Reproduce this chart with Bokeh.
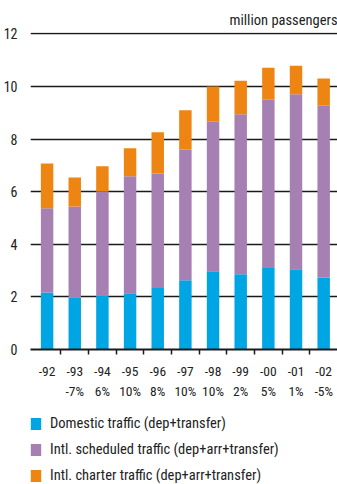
from bokeh.plotting import figure
from bokeh.layouts import column
from bokeh.models import FixedTicker, Legend, LegendItem, ColumnDataSource
from bokeh.embed import file_html
from bokeh.resources import INLINE

# Passenger traffic per year, million passengers
years = ["-92", "-93", "-94", "-95", "-96", "-97", "-98", "-99", "-00", "-01", "-02"]
growth = ["", "-7%", "6%", "10%", "8%", "10%", "10%", "2%", "5%", "1%", "-5%"]
domestic = [2.17, 1.98, 2.03, 2.14, 2.34, 2.63, 2.97, 2.86, 3.10, 3.05, 2.74]
intl_scheduled = [3.20, 3.46, 3.98, 4.45, 4.35, 4.97, 5.69, 6.08, 6.39, 6.65, 6.53]
intl_charter = [1.70, 1.10, 0.96, 1.06, 1.57, 1.49, 1.34, 1.28, 1.22, 1.09, 1.03]

series_names = ["Domestic traffic (dep+transfer)",
                "Intl. scheduled traffic (dep+arr+transfer)",
                "Intl. charter traffic (dep+arr+transfer)"]
colors = ["#00a6e4", "#a67fb3", "#ee8512"]

FONT = "'Roboto Condensed', 'Liberation Sans Narrow', 'Arial Narrow', 'DejaVu Sans Condensed', Roboto, sans-serif"
INK = "#222222"

idx = list(range(len(years)))
src = ColumnDataSource(dict(x=idx, dom=domestic, sch=intl_scheduled, cha=intl_charter))

p = figure(width=337, height=402, output_backend="svg", toolbar_location=None,
           x_range=(-0.6, 10.5), y_range=(0, 12.05),
           title="million passengers",
           min_border_left=24, min_border_right=0, min_border_top=32, min_border_bottom=53)
p.outline_line_color = None
p.background_fill_color = "white"
p.border_fill_color = "white"

p.title.align = "right"
p.title.text_font = FONT
p.title.text_font_size = "14.5px"
p.title.text_font_style = "normal"
p.title.text_color = INK
p.title.standoff = 8

p.vbar_stack(["dom", "sch", "cha"], x="x", width=0.45, source=src,
             color=colors, line_color=None)

# y axis: labels only, gridlines every 2
p.yaxis.ticker = FixedTicker(ticks=[0, 2, 4, 6, 8, 10, 12])
p.yaxis.axis_line_color = None
p.yaxis.major_tick_line_color = None
p.yaxis.minor_tick_line_color = None
p.yaxis.major_label_text_font = FONT
p.yaxis.major_label_text_font_size = "14px"
p.yaxis.major_label_text_color = INK
p.yaxis.major_label_standoff = 7
p.ygrid.grid_line_color = "#1a1a1a"
p.ygrid.grid_line_width = 1.5
p.xgrid.grid_line_color = None

# x axis: year + growth labels, separator ticks between bars
p.xaxis.ticker = FixedTicker(ticks=idx, minor_ticks=[i + 0.5 for i in idx[:-1]])
p.xaxis.major_label_overrides = {i: (years[i] + ("\n" + growth[i] if growth[i] else ""))
                                 for i in idx}
p.xaxis.axis_line_color = "#1a1a1a"
p.xaxis.axis_line_width = 2
p.xaxis.major_tick_line_color = None
p.xaxis.minor_tick_line_color = "#1a1a1a"
p.xaxis.minor_tick_line_width = 1.5
p.xaxis.minor_tick_out = 5
p.xaxis.minor_tick_in = 0
p.xaxis.major_label_text_font = FONT
p.xaxis.major_label_text_font_size = "13.5px"
p.xaxis.major_label_text_color = INK
p.xaxis.major_label_text_line_height = 1.3
p.xaxis.major_label_standoff = 7

# Legend panel below the chart; swatch renderers sit outside the visible range
lg = figure(width=337, height=82, output_backend="svg", toolbar_location=None,
            x_range=(0, 1), y_range=(0, 1), min_border=0,
            x_axis_location=None, y_axis_location=None)
lg.grid.visible = False
lg.outline_line_color = None
swatches = [lg.vbar(x=[5], top=[1], width=0.1, color=c, line_color=None) for c in colors]
legend = Legend(items=[LegendItem(label=n, renderers=[r]) for n, r in zip(series_names, swatches)],
                location=(-1, 0), orientation="vertical",
                glyph_width=13, glyph_height=15, label_height=15, spacing=9,
                padding=0, margin=0, label_standoff=8,
                label_text_font=FONT, label_text_font_size="14.5px", label_text_color=INK,
                border_line_color=None, background_fill_alpha=0)
lg.add_layout(legend, "center")

open("out.html", "w").write(file_html(column(p, lg, spacing=0), INLINE))
